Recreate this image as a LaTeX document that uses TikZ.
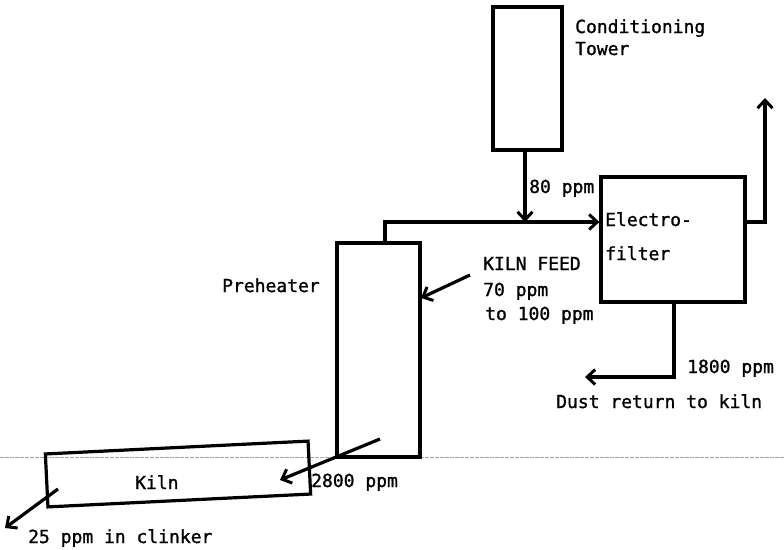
\documentclass[tikz,border=0pt]{standalone}
\usepackage{fontspec}
\newfontfamily\twfont[FakeBold=1.2]{DejaVu Sans Mono}
\usetikzlibrary{arrows.meta}
\begin{document}
\begin{tikzpicture}[x=1pt,y=-1pt,
  box/.style={draw,line width=3.2pt,inner sep=0pt},
  flow/.style={line width=3.2pt,-{Straight Barb[length=8pt,width=15pt,line width=3pt]}},
  lbl/.style={font=\twfont\fontsize{18}{20}\selectfont,inner sep=0pt,anchor=base west},
  scanline/.style={draw=gray!70,line width=0.8pt,dash pattern=on 4pt off 1pt}]
\useasboundingbox (0,0) rectangle (784,549);
% faint scan line
\coordinate (sl1) at (0,457);
\coordinate (sl2) at (784,457);
\draw[scanline] (sl1) -- (sl2);
% boxes
\node[box,minimum width=69pt,minimum height=143pt] (tower) at (527.5,78.5) {};
\node[box,minimum width=144pt,minimum height=125pt] (filter) at (673,239.5) {};
\node[box,minimum width=83pt,minimum height=214pt] (pre) at (378.5,350) {};
\node[box,minimum width=263pt,minimum height=53pt,rotate=2.8] (kiln) at (178,474) {};
% labels
\node[lbl] (tConditioning) at (575,33) {Conditioning};
\node[lbl] (tTower) at (575,55) {Tower};
\node[lbl] (t80) at (529,193) {80 ppm};
\node[lbl] (tElectro) at (605,226) {Electro-};
\node[lbl] (tFilter) at (605,260) {filter};
\node[lbl] (tPre) at (222,292) {Preheater};
\node[lbl] (tKF) at (483,270) {KILN FEED};
\node[lbl] (t70) at (483,296) {70 ppm};
\node[lbl] (t100) at (485,320) {to 100 ppm};
\node[lbl] (t1800) at (687,373) {1800 ppm};
\node[lbl] (tDust) at (556,408) {Dust return to kiln};
\node[lbl] (tKiln) at (135,489) {Kiln};
\node[lbl] (t2800) at (311,487) {2800 ppm};
\node[lbl] (t25) at (28,543) {25 ppm in clinker};
% connectors
\coordinate (j1) at (525,222);
\draw[flow] (tower.south -| j1) -- (j1);
\coordinate (p1) at (385,222);
\draw[flow] (p1 |- pre.north) -- (p1) -- (p1 -| filter.west);
\coordinate (s1) at (765,222);
\coordinate (stack) at (765,98);
\draw[flow] (s1 -| filter.east) -- (s1) -- (stack);
\coordinate (d1) at (674,377);
\coordinate (dustend) at (585,377);
\draw[flow] (d1 |- filter.south) -- (d1) -- (dustend);
\coordinate (kf1) at (470,275);
\coordinate (kf2) at (421,298);
\draw[flow] (kf1) -- (kf2);
\coordinate (hm1) at (380,439);
\coordinate (hm2) at (280,480);
\draw[flow] (hm1) -- (hm2);
\coordinate (cl1) at (58,489);
\coordinate (cl2) at (5,528);
\draw[flow] (cl1) -- (cl2);
\end{tikzpicture}
\end{document}
